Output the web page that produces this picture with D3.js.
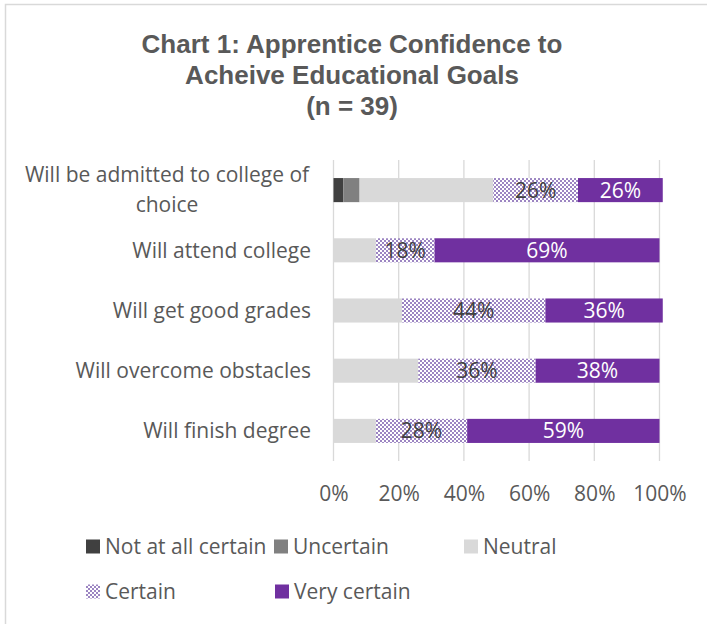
<!DOCTYPE html>
<html><head><meta charset="utf-8">
<script src="https://cdn.jsdelivr.net/npm/d3@7"></script>
<style>html,body{margin:0;padding:0;background:#fff;}svg{display:block;}</style>
</head><body><svg id="c" width="707" height="624"></svg>
<script>
const categories = ["Will be admitted to college of choice","Will attend college","Will get good grades","Will overcome obstacles","Will finish degree"];
const seriesNames = ["Not at all certain","Uncertain","Neutral","Certain","Very certain"];
const notAtAll   = [3, 0, 0, 0, 0];
const uncertain  = [5, 0, 0, 0, 0];
const neutral    = [41, 13, 21, 26, 13];
const certain    = [26, 18, 44, 36, 28];
const veryCertain= [26, 69, 36, 38, 59];
const xTicks = [0, 20, 40, 60, 80, 100];
const titleLines = ["Chart 1: Apprentice Confidence to","Acheive Educational Goals","(n = 39)"];

const svg = d3.select("#c");
const FONT = "'Open Sans', sans-serif";
const FS = 21;
const TXT = "#595959";

// pattern
const defs = svg.append("defs");
const pat = defs.append("pattern").attr("id","chk").attr("patternUnits","userSpaceOnUse").attr("width",4).attr("height",4);
pat.append("rect").attr("width",4).attr("height",4).attr("fill","#ffffff");
pat.append("rect").attr("width",2).attr("height",2).attr("fill","#9c85c2");
pat.append("rect").attr("x",2).attr("y",2).attr("width",2).attr("height",2).attr("fill","#9c85c2");

const colors = ["#404040","#808080","#d9d9d9","url(#chk)","#7030a0"];
const labelColors = [null,null,null,"#404040","#ffffff"];

// border
svg.append("rect").attr("x",5.5).attr("y",4.5).attr("width",720).attr("height",640)
  .attr("fill","none").attr("stroke","#d9d9d9").attr("stroke-width",1.5);

// title
svg.append("g").selectAll("text").data(titleLines).join("text")
  .attr("x",352).attr("y",(d,i)=>53+i*31).attr("text-anchor","middle")
  .attr("font-family","'Liberation Sans', Arial, sans-serif").attr("font-weight","bold")
  .attr("font-size",26).attr("fill",TXT).text(d=>d);

const x = d3.scaleLinear().domain([0,100]).range([333.5,659.5]);
const y = d3.scaleBand().domain(categories).range([160,461]).paddingInner(0.6).paddingOuter(0.3);

// grid
svg.append("g").selectAll("line").data(xTicks).join("line")
  .attr("x1",d=>x(d)).attr("x2",d=>x(d)).attr("y1",160).attr("y2",461)
  .attr("stroke","#d9d9d9").attr("stroke-width",1.3);

const rows = categories.map((c,i)=>({cat:c, vals:[notAtAll[i],uncertain[i],neutral[i],certain[i],veryCertain[i]]}));
const stacked = d3.stack().keys([0,1,2,3,4]).value((d,k)=>d.vals[k])(rows);

const gBars = svg.append("g");
stacked.forEach((layer,k)=>{
  gBars.append("g").selectAll("rect").data(layer).join("rect")
    .attr("x",d=>x(d[0])).attr("width",d=>x(d[1])-x(d[0]))
    .attr("y",d=>y(d.data.cat)).attr("height",y.bandwidth())
    .attr("fill",colors[k]);
  if(labelColors[k]){
    gBars.append("g").selectAll("text").data(layer.filter(d=>d[1]-d[0]>0)).join("text")
      .attr("x",d=>(x(d[0])+x(d[1]))/2).attr("y",d=>y(d.data.cat)+y.bandwidth()/2)
      .attr("dy","0.36em").attr("text-anchor","middle")
      .attr("font-family",FONT).attr("font-size",FS).attr("fill",labelColors[k])
      .text(d=>(d[1]-d[0])+"%");
  }
});

// category labels
const catG = svg.append("g");
categories.forEach(c=>{
  const cy = y(c)+y.bandwidth()/2;
  if(c.length>28){
    const l1 = "Will be admitted to college of", l2 = "choice";
    const t = catG.append("text").attr("font-family",FONT).attr("font-size",FS).attr("fill",TXT).attr("text-anchor","middle");
    t.append("tspan").attr("x",167).attr("y",cy-8).text(l1);
    t.append("tspan").attr("x",167).attr("y",cy+22).text(l2);
  } else {
    catG.append("text").attr("x",311).attr("y",cy).attr("dy","0.36em").attr("text-anchor","end")
      .attr("font-family",FONT).attr("font-size",FS).attr("fill",TXT).text(c);
  }
});

// x axis
const xAxis = svg.append("g").attr("transform","translate(0,461)")
  .call(d3.axisBottom(x).tickValues(xTicks).tickFormat(d=>d+"%").tickSize(0).tickPadding(25));
xAxis.select(".domain").remove();
xAxis.selectAll("text").attr("font-family",FONT).attr("font-size",FS).attr("fill",TXT);

// legend
const legPos = [[86,546],[274,546],[464,546],[86,591],[275,591]];
const lg = svg.append("g");
seriesNames.forEach((n,i)=>{
  const [lx,ly] = legPos[i];
  lg.append("rect").attr("x",lx).attr("y",ly-6.5).attr("width",14).attr("height",14).attr("fill",colors[i]);
  lg.append("text").attr("x",lx+19).attr("y",ly).attr("dy","0.36em")
    .attr("font-family",FONT).attr("font-size",FS).attr("fill",TXT).text(n);
});
</script></body></html>
